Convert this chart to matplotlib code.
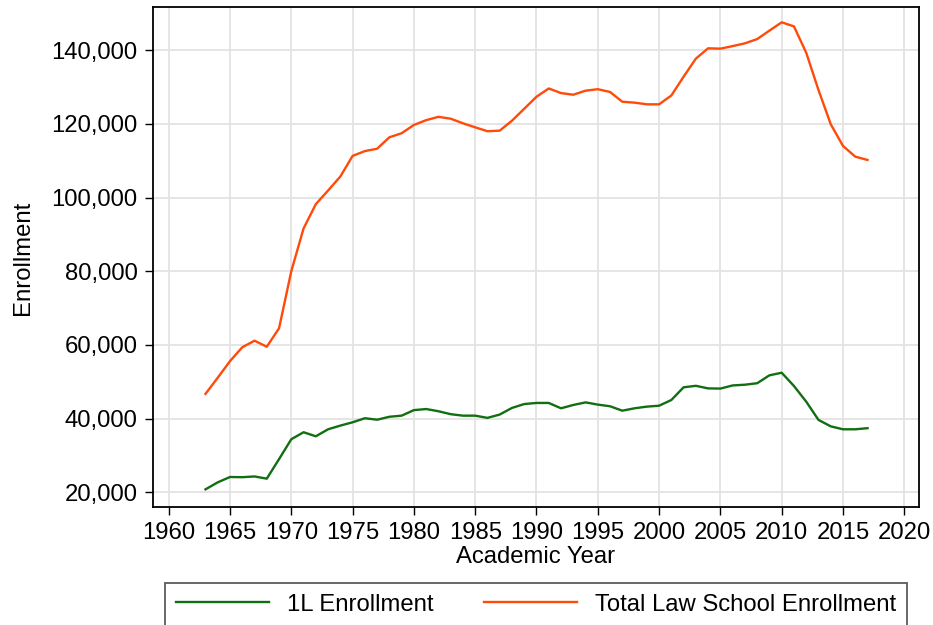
import numpy as np
import matplotlib
matplotlib.use("Agg")
import matplotlib.pyplot as plt
from matplotlib.ticker import FuncFormatter

plt.rcParams['font.family'] = ['Liberation Sans', 'DejaVu Sans']

# academic years shown on the chart
years = list(range(1963, 2018))

# first-year (1L) enrollment
first_year = [20800, 22700, 24150, 24100, 24300, 23700, 29000, 34400, 36300, 35200,
              37100, 38100, 39000, 40100, 39700, 40500, 40800, 42300, 42600, 42000,
              41200, 40800, 40800, 40200, 41100, 42900, 43950, 44250, 44250, 42800,
              43700, 44400, 43800, 43350, 42150, 42800, 43250, 43500, 45050, 48500,
              48900, 48200, 48150, 49000, 49200, 49600, 51750, 52450, 48850, 44600,
              39650, 37900, 37100, 37100, 37400]

# total law school enrollment
total = [46700, 51100, 55600, 59350, 61150, 59500, 64500, 80000, 91600, 98200,
         101900, 105700, 111300, 112600, 113250, 116350, 117450, 119700, 121000, 121900,
         121400, 120150, 119050, 118000, 118150, 120850, 124100, 127350, 129600, 128350,
         127900, 129000, 129400, 128650, 126000, 125750, 125300, 125300, 127700, 132800,
         137700, 140500, 140400, 141100, 141850, 143000, 145300, 147550, 146450, 139300,
         129200, 119900, 114000, 111100, 110200]

xticks = list(range(1960, 2021, 5))
yticks = list(range(20000, 140001, 20000))

fs = 17.2

fig = plt.figure(figsize=(9.33, 6.25), dpi=100)
ax = fig.add_axes([153 / 933, 1 - 507 / 625, (919 - 153) / 933, (507 - 7) / 625])

ax.plot(years, first_year, color='#116e11', lw=1.7, label='1L Enrollment')
ax.plot(years, total, color='#ff4a0a', lw=1.7, label='Total Law School Enrollment')

ax.set_xlim(1958.72, 2021.2)
ax.set_ylim(16010, 151710)
ax.set_xticks(xticks)
ax.set_yticks(yticks)
ax.yaxis.set_major_formatter(FuncFormatter(lambda v, p: f'{int(v):,}'))

ax.grid(True, color='#e3e3e3', lw=1.3)
ax.set_axisbelow(True)
for s in ax.spines.values():
    s.set_color('black')
    s.set_linewidth(1.3)

ax.tick_params(axis='both', labelsize=fs, length=6, width=1.0, direction='out', pad=5)

fig.text(23 / 933, 1 - 258 / 625, 'Enrollment', rotation=90, fontsize=fs, ha='center', va='center')
fig.text(536 / 933, 1 - 557 / 625, 'Academic Year', fontsize=fs, ha='center', va='center')

leg = fig.legend(loc='upper center', bbox_to_anchor=(536 / 933, 1 - 583 / 625), ncol=2,
                 fontsize=fs, frameon=True, fancybox=False, handlelength=3.9,
                 handletextpad=0.75, columnspacing=2.1, borderpad=0.45, borderaxespad=0)
leg.get_frame().set_edgecolor('#333333')
leg.get_frame().set_linewidth(1.3)

fig.savefig('out.png', dpi=100)
